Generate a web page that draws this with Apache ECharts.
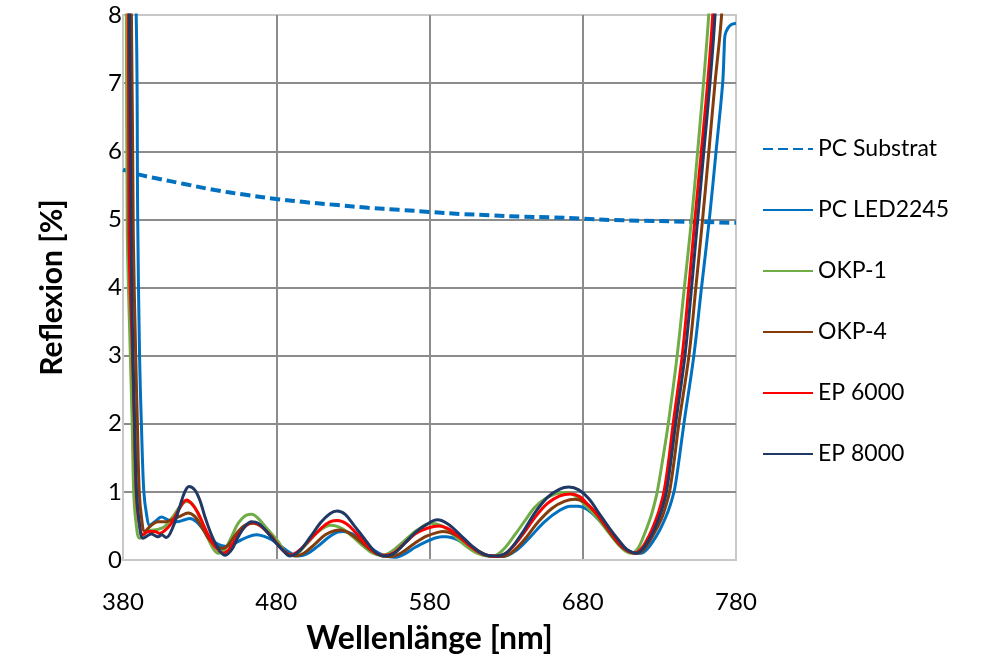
<!DOCTYPE html>
<html>
<head>
<meta charset="utf-8">
<script src="https://cdn.jsdelivr.net/npm/echarts@6/dist/echarts.min.js"></script>
<style>
html,body{margin:0;padding:0;background:#fff;}
#chart{width:1000px;height:666px;}
</style>
</head>
<body>
<div id="chart"></div>
<script>
// ---- Data (wavelength in nm, reflection in %) ----
const seriesNames = ["PC Substrat", "PC LED2245", "OKP-1", "OKP-4", "EP 6000", "EP 8000"];
const xTicks = [380, 480, 580, 680, 780];
const yTicks = [0, 1, 2, 3, 4, 5, 6, 7, 8];

const substratX = [380, 390, 400, 420, 440, 460, 480, 500, 520, 540, 560, 580, 600, 620, 640, 660, 680, 700, 720, 740, 760, 780];
const substratY = [5.73, 5.66, 5.61, 5.52, 5.43, 5.36, 5.30, 5.25, 5.21, 5.17, 5.14, 5.11, 5.08, 5.06, 5.04, 5.03, 5.01, 4.99, 4.98, 4.97, 4.96, 4.95];

const ledX = [380, 388.6, 389.6, 390.8, 392, 393.6, 395.5, 397.4, 400.7, 405.1, 409.4, 414.9, 420.3, 423.6, 428, 433.4, 438.8, 443, 448, 455, 461.5, 467, 475, 482, 488, 494, 500, 507, 514, 520, 524, 530, 537, 544, 551, 557, 563, 571, 580, 588, 591, 598, 606, 614, 621, 628, 636, 645, 655, 665, 672, 677, 683, 690, 697, 704, 710, 715, 718, 722, 726, 730, 734, 737, 740, 743, 746, 752.5, 757.5, 762.6, 767, 771.3, 772.3, 772.8, 774.5, 777, 780];
const ledY = [14, 8, 5, 3, 2, 1, 0.65, 0.51, 0.56, 0.63, 0.59, 0.56, 0.59, 0.61, 0.56, 0.42, 0.28, 0.22, 0.2, 0.27, 0.34, 0.37, 0.32, 0.22, 0.12, 0.06, 0.09, 0.2, 0.33, 0.41, 0.42, 0.38, 0.27, 0.14, 0.06, 0.04, 0.08, 0.19, 0.29, 0.34, 0.34, 0.3, 0.2, 0.1, 0.05, 0.05, 0.13, 0.32, 0.56, 0.73, 0.79, 0.79, 0.74, 0.6, 0.42, 0.25, 0.13, 0.1, 0.1, 0.16, 0.28, 0.43, 0.62, 0.8, 1.05, 1.5, 2, 3, 4, 5, 6, 7, 7.5, 7.7, 7.8, 7.86, 7.88];

const okp1X = [380, 382.2, 382.8, 384.8, 386, 387, 388.5, 390.9, 396.3, 402.9, 407.2, 412.7, 417, 421.4, 425.8, 430.1, 434.5, 438.8, 442.1, 446.4, 450.8, 455.2, 460.6, 464, 468.2, 474.8, 481.3, 485, 489, 494, 500, 508, 516, 523, 530, 537, 543, 549, 555, 563, 572, 581, 588, 595, 603, 611, 618, 622, 628, 636, 643, 649, 658, 668, 676, 684, 690.5, 697, 703.5, 708, 712, 716, 719.9, 724.2, 726.5, 728.6, 732.2, 735.8, 741.6, 746.3, 751, 755, 758.8, 762.2, 766];
const okp1Y = [14, 8, 4.8, 3, 2, 1, 0.55, 0.32, 0.42, 0.45, 0.49, 0.64, 0.78, 0.86, 0.81, 0.61, 0.37, 0.17, 0.1, 0.15, 0.34, 0.54, 0.66, 0.67, 0.61, 0.44, 0.27, 0.14, 0.07, 0.1, 0.24, 0.43, 0.51, 0.46, 0.34, 0.2, 0.1, 0.07, 0.12, 0.27, 0.44, 0.54, 0.5, 0.38, 0.22, 0.1, 0.06, 0.06, 0.15, 0.38, 0.6, 0.78, 0.93, 0.99, 0.93, 0.75, 0.59, 0.4, 0.22, 0.13, 0.1, 0.17, 0.36, 0.62, 0.8, 1.0, 1.48, 2, 3, 4, 5, 6, 7, 8, 9.5];

const okp4X = [380, 385.5, 386.7, 388.3, 389.4, 390.6, 392.2, 394.2, 398.5, 402.9, 407.2, 411.6, 417, 422.5, 426.8, 431.2, 435.6, 439.9, 444.8, 448.6, 454.1, 459.5, 465, 470.4, 477, 481.3, 485, 492, 498, 505, 512, 518, 522, 528, 535, 542, 549, 555, 562, 570, 578, 586, 589, 596, 604, 612, 619, 626, 633, 642, 651, 660, 668, 675, 681, 687, 693, 700, 706, 712, 716, 720, 724, 728, 731.8, 734, 736.6, 739.6, 742.7, 749.3, 753.8, 758.2, 762.3, 766.3, 770.6, 774];
const okp4Y = [14, 8, 4.8, 3, 2, 1, 0.6, 0.42, 0.51, 0.56, 0.56, 0.59, 0.64, 0.69, 0.64, 0.49, 0.32, 0.22, 0.17, 0.22, 0.39, 0.51, 0.54, 0.49, 0.34, 0.22, 0.13, 0.06, 0.1, 0.23, 0.37, 0.43, 0.44, 0.39, 0.27, 0.14, 0.06, 0.05, 0.11, 0.24, 0.35, 0.41, 0.42, 0.38, 0.26, 0.13, 0.06, 0.05, 0.1, 0.3, 0.56, 0.76, 0.86, 0.89, 0.85, 0.73, 0.55, 0.33, 0.18, 0.11, 0.1, 0.16, 0.29, 0.45, 0.63, 0.78, 1.0, 1.45, 2, 3, 4, 5, 6, 7, 8, 9.5];

const ep6000X = [380, 383.5, 383.9, 386.2, 387.4, 388.6, 390.5, 393, 396.3, 400.7, 404, 407.2, 411.6, 417, 421.4, 424.7, 429, 433.4, 437.7, 442.1, 445.4, 449.7, 455.2, 460.6, 465, 470.4, 477, 481.3, 485, 489, 495, 502, 510, 515, 520, 526, 532, 539, 545, 551, 557, 564, 571, 579, 586, 593, 601, 609, 617, 624, 631, 640, 649, 657, 665, 672, 678, 684, 690.5, 697, 703.5, 709, 714, 718, 722, 725, 727.9, 730.5, 733, 736, 739, 744.9, 749.2, 753.2, 757.4, 761.5, 764.8, 768];
const ep6000Y = [14, 8, 4.8, 3, 2, 1, 0.55, 0.37, 0.42, 0.42, 0.39, 0.43, 0.54, 0.76, 0.88, 0.83, 0.69, 0.47, 0.27, 0.15, 0.1, 0.17, 0.37, 0.51, 0.55, 0.49, 0.34, 0.22, 0.13, 0.07, 0.14, 0.3, 0.48, 0.56, 0.58, 0.53, 0.4, 0.22, 0.1, 0.07, 0.11, 0.25, 0.39, 0.47, 0.5, 0.45, 0.31, 0.16, 0.07, 0.06, 0.12, 0.35, 0.63, 0.83, 0.94, 0.97, 0.93, 0.8, 0.64, 0.45, 0.26, 0.14, 0.1, 0.16, 0.3, 0.44, 0.6, 0.78, 1.0, 1.45, 2, 3, 4, 5, 6, 7, 8, 9.5];

const ep8000X = [380, 384.2, 385.2, 386.5, 387.6, 388.8, 390.6, 393.1, 398.5, 402.9, 405.1, 408.3, 412.7, 417, 420.3, 423.1, 426.8, 430.1, 433.4, 437.7, 442.1, 446.4, 450.8, 455.2, 459.5, 463.9, 468.2, 473.7, 479.1, 484, 489, 495, 502, 509, 515, 519.7, 525, 531, 538, 544, 550, 557, 564, 571, 578, 585, 592, 600, 608, 616, 624, 631, 640, 649, 657, 665, 671, 677.4, 684, 690.5, 697, 703.5, 709, 715, 719, 723, 726.5, 729.6, 732, 734.5, 737.5, 740.6, 746.7, 751, 755, 759, 763, 766.3, 769];
const ep8000Y = [14, 8, 4.8, 3, 2, 1, 0.55, 0.32, 0.38, 0.34, 0.37, 0.33, 0.49, 0.78, 1.0, 1.08, 1.03, 0.88, 0.64, 0.37, 0.17, 0.07, 0.15, 0.34, 0.49, 0.56, 0.54, 0.42, 0.27, 0.15, 0.06, 0.13, 0.33, 0.55, 0.68, 0.72, 0.67, 0.5, 0.3, 0.13, 0.06, 0.1, 0.25, 0.41, 0.52, 0.59, 0.53, 0.37, 0.2, 0.08, 0.06, 0.12, 0.38, 0.7, 0.92, 1.04, 1.07, 1.03, 0.9, 0.69, 0.48, 0.29, 0.15, 0.1, 0.16, 0.29, 0.44, 0.61, 0.77, 0.99, 1.45, 2, 3, 4, 5, 6, 7, 8, 9.5];

const colors = ["#0070c0", "#0070c0", "#70ad47", "#843c0c", "#ff0000", "#203864"];

function pairs(xs, ys) { return xs.map((x, i) => [x, ys[i]]); }

const seriesData = [
  pairs(substratX, substratY),
  pairs(ledX, ledY),
  pairs(okp1X, okp1Y),
  pairs(okp4X, okp4Y),
  pairs(ep6000X, ep6000Y),
  pairs(ep8000X, ep8000Y)
];

const FONT = "Lato";

const chart = echarts.init(document.getElementById('chart'), null, {renderer: 'canvas'});
const option = {
  animation: false,
  backgroundColor: '#ffffff',
  grid: {
    left: 123, right: 264, top: 15, bottom: 106,
    show: true, borderColor: '#c8c8c8', borderWidth: 2, containLabel: false
  },
  legend: {
    orient: 'vertical',
    left: 762,
    top: 135,
    padding: 0,
    itemWidth: 50,
    itemHeight: 14,
    itemGap: 33,
    data: seriesNames,
    itemStyle: { opacity: 0, color: 'rgba(0,0,0,0)', borderWidth: 0 },
    textStyle: { fontFamily: FONT, fontSize: 23, color: '#000', lineHeight: 28 }
  },
  xAxis: {
    type: 'value',
    min: 380, max: 780, interval: 100,
    name: 'Wellenlänge [nm]',
    nameLocation: 'middle',
    nameGap: 63,
    nameTextStyle: { fontFamily: FONT, fontSize: 32, fontWeight: 'bold', color: '#000' },
    axisLine: { show: true, lineStyle: { color: '#c8c8c8', width: 2 } },
    axisTick: { show: false },
    axisLabel: { fontFamily: FONT, fontSize: 24, color: '#000', margin: 30,
      formatter: v => xTicks.includes(v) ? String(v) : '' },
    splitLine: { show: true, showMinLine: false, showMaxLine: false, lineStyle: { color: '#8c8c8c', width: 2 } }
  },
  yAxis: {
    type: 'value',
    min: 0, max: 8, interval: 1,
    name: 'Reflexion [%]',
    nameLocation: 'middle',
    nameGap: 56,
    nameRotate: 90,
    nameTextStyle: { fontFamily: FONT, fontSize: 30, fontWeight: 'bold', color: '#000' },
    axisLine: { show: true, lineStyle: { color: '#c8c8c8', width: 2 } },
    axisTick: { show: false },
    axisLabel: { fontFamily: FONT, fontSize: 24, color: '#000', margin: 1,
      formatter: v => yTicks.includes(v) ? String(v) : '' },
    splitLine: { show: true, showMinLine: false, showMaxLine: false, lineStyle: { color: '#8c8c8c', width: 2 } }
  },
  series: seriesNames.map((name, i) => ({
    name: name,
    type: 'line',
    data: seriesData[i],
    symbol: 'none',
    showSymbol: false,
    smooth: 0.35,
    clip: true,
    color: colors[i],
    lineStyle: i === 0
      ? { color: colors[i], width: 4, type: [10, 5] }
      : { color: colors[i], width: 3 },
    z: 2 + i
  }))
};
chart.setOption(option);
</script>
</body>
</html>
